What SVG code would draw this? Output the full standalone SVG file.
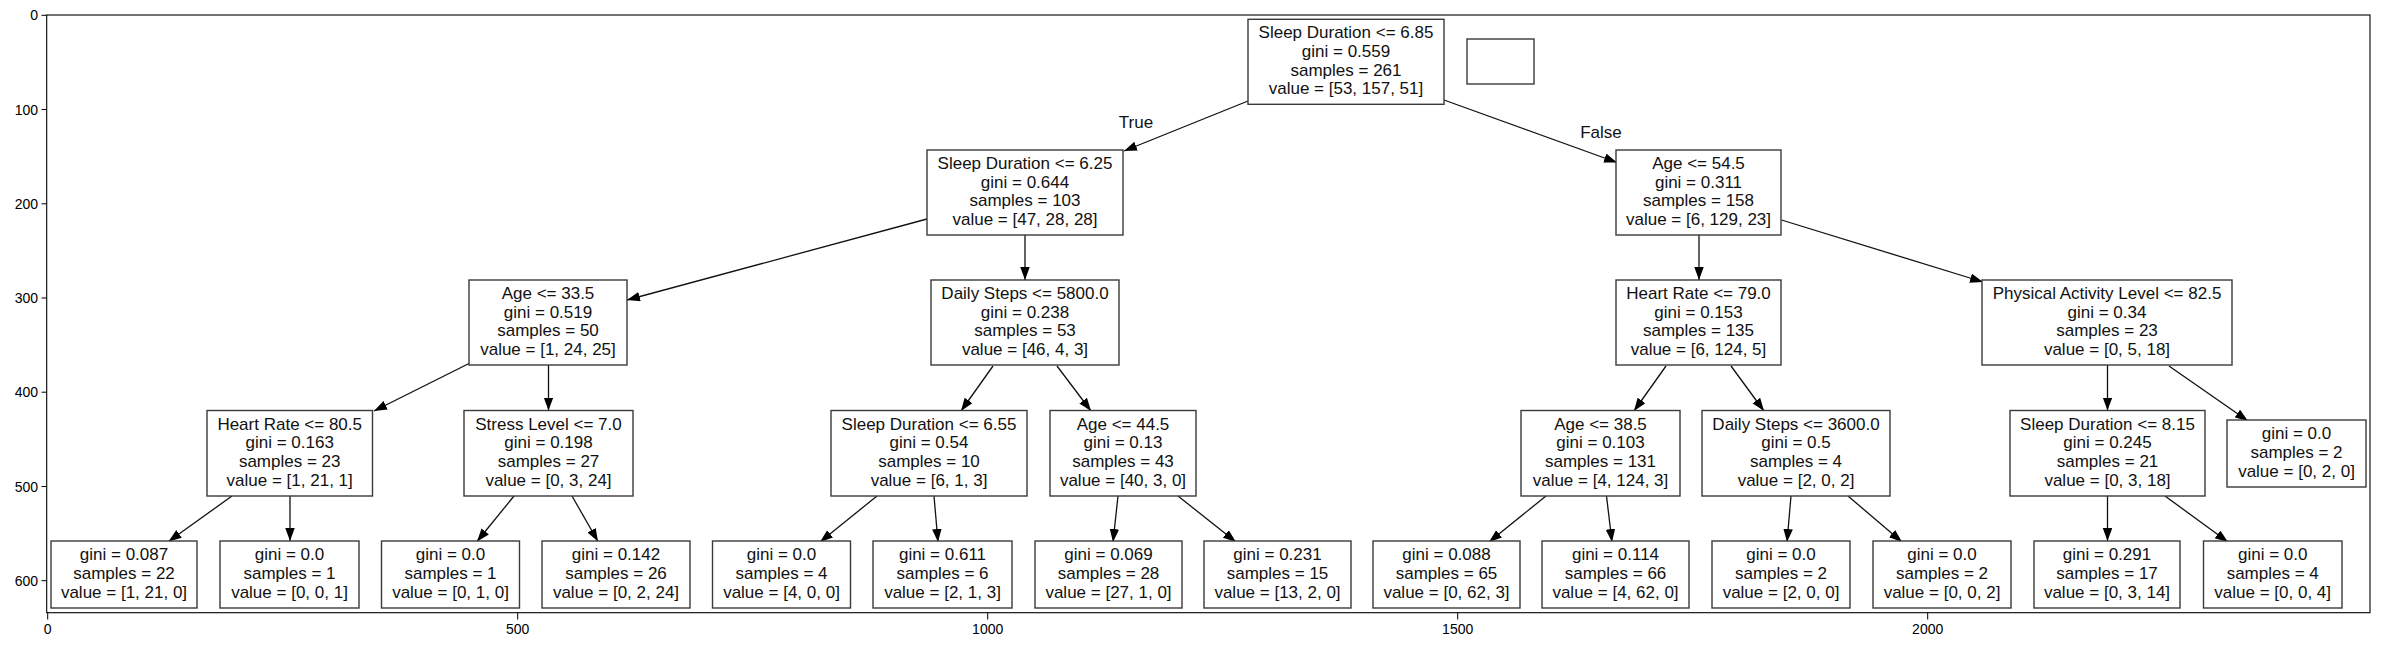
<svg xmlns="http://www.w3.org/2000/svg" width="2381" height="647" viewBox="0 0 2381 647">
<style>
.bg{fill:#fff}
.box{fill:#fff;stroke:#3a3a3a;stroke-width:1.4}
.t{font-family:"Liberation Sans",Arial,sans-serif;font-size:17px;text-anchor:middle;fill:#111}
.e{stroke:#111;stroke-width:1.3;fill:none;marker-end:url(#ah)}
.tick{stroke:#000;stroke-width:1}
.tl{font-family:"Liberation Sans",Arial,sans-serif;font-size:14px;fill:#000}
.frame{fill:none;stroke:#000;stroke-width:1.1}
</style>
<defs>
<marker id="ah" markerUnits="userSpaceOnUse" markerWidth="14" markerHeight="10" refX="13" refY="4.75" orient="auto">
<path d="M0,0 L13,4.75 L0,9.5 z" fill="#000"/>
</marker>
</defs>
<rect class="bg" x="0" y="0" width="2381" height="647"/>

<g id="connectors">
<line class="e" x1="1248" y1="101" x2="1124" y2="151"/>
<line class="e" x1="1444" y1="100" x2="1617" y2="162.5"/>
<line class="e" x1="927" y1="219" x2="627" y2="300"/>
<line class="e" x1="1025" y1="235" x2="1025" y2="280"/>
<line class="e" x1="1699" y1="235" x2="1699" y2="280"/>
<line class="e" x1="1781.5" y1="220" x2="1983" y2="282"/>
<line class="e" x1="469" y1="363.5" x2="374" y2="411"/>
<line class="e" x1="548.5" y1="365" x2="548.5" y2="410.5"/>
<line class="e" x1="993" y1="366" x2="961" y2="411"/>
<line class="e" x1="1057" y1="366" x2="1091" y2="411"/>
<line class="e" x1="1666" y1="366" x2="1634" y2="411"/>
<line class="e" x1="1731" y1="366" x2="1764" y2="411"/>
<line class="e" x1="2107.5" y1="365" x2="2107.5" y2="410.5"/>
<line class="e" x1="2169" y1="366" x2="2248" y2="421"/>
<line class="e" x1="232" y1="496" x2="168.5" y2="541.5"/>
<line class="e" x1="290" y1="496" x2="290" y2="541"/>
<line class="e" x1="514" y1="496" x2="477" y2="541.5"/>
<line class="e" x1="572" y1="496" x2="598" y2="541.5"/>
<line class="e" x1="877" y1="496" x2="820" y2="542"/>
<line class="e" x1="934" y1="496" x2="938" y2="542"/>
<line class="e" x1="1118" y1="496" x2="1113" y2="542"/>
<line class="e" x1="1178" y1="496" x2="1236" y2="542"/>
<line class="e" x1="1546" y1="496" x2="1489" y2="542"/>
<line class="e" x1="1606.5" y1="496" x2="1612" y2="542"/>
<line class="e" x1="1791" y1="496" x2="1787" y2="542"/>
<line class="e" x1="1848" y1="496" x2="1902" y2="542"/>
<line class="e" x1="2107.5" y1="496" x2="2107.5" y2="541"/>
<line class="e" x1="2165" y1="496" x2="2228" y2="542"/>
<text class="t" x="1136" y="128">True</text>
<text class="t" x="1601" y="138">False</text>
</g>

<g id="n0"><rect class="box" x="1248" y="19.3" width="196" height="85"/>
<text class="t"><tspan x="1346" y="38.3">Sleep Duration &lt;= 6.85</tspan><tspan x="1346" y="57">gini = 0.559</tspan><tspan x="1346" y="75.7">samples = 261</tspan><tspan x="1346" y="94.4">value = [53, 157, 51]</tspan></text></g>

<g id="empty-box"><rect class="box" x="1467" y="39" width="67" height="45"/></g>

<g id="n1"><rect class="box" x="927" y="150" width="196" height="85"/>
<text class="t"><tspan x="1025" y="169">Sleep Duration &lt;= 6.25</tspan><tspan x="1025" y="187.7">gini = 0.644</tspan><tspan x="1025" y="206.4">samples = 103</tspan><tspan x="1025" y="225.1">value = [47, 28, 28]</tspan></text></g>

<g id="n2"><rect class="box" x="1616" y="150" width="165" height="85"/>
<text class="t"><tspan x="1698.5" y="169">Age &lt;= 54.5</tspan><tspan x="1698.5" y="187.7">gini = 0.311</tspan><tspan x="1698.5" y="206.4">samples = 158</tspan><tspan x="1698.5" y="225.1">value = [6, 129, 23]</tspan></text></g>

<g id="n3"><rect class="box" x="469" y="280" width="158" height="85"/>
<text class="t"><tspan x="548" y="299">Age &lt;= 33.5</tspan><tspan x="548" y="317.7">gini = 0.519</tspan><tspan x="548" y="336.4">samples = 50</tspan><tspan x="548" y="355.1">value = [1, 24, 25]</tspan></text></g>

<g id="n4"><rect class="box" x="931" y="280" width="188" height="85"/>
<text class="t"><tspan x="1025" y="299">Daily Steps &lt;= 5800.0</tspan><tspan x="1025" y="317.7">gini = 0.238</tspan><tspan x="1025" y="336.4">samples = 53</tspan><tspan x="1025" y="355.1">value = [46, 4, 3]</tspan></text></g>

<g id="n5"><rect class="box" x="1616" y="280" width="165" height="85"/>
<text class="t"><tspan x="1698.5" y="299">Heart Rate &lt;= 79.0</tspan><tspan x="1698.5" y="317.7">gini = 0.153</tspan><tspan x="1698.5" y="336.4">samples = 135</tspan><tspan x="1698.5" y="355.1">value = [6, 124, 5]</tspan></text></g>

<g id="n6"><rect class="box" x="1982" y="280" width="250" height="85"/>
<text class="t"><tspan x="2107" y="299">Physical Activity Level &lt;= 82.5</tspan><tspan x="2107" y="317.7">gini = 0.34</tspan><tspan x="2107" y="336.4">samples = 23</tspan><tspan x="2107" y="355.1">value = [0, 5, 18]</tspan></text></g>

<g id="n7"><rect class="box" x="207" y="410.5" width="165.5" height="85.5"/>
<text class="t"><tspan x="289.7" y="429.7">Heart Rate &lt;= 80.5</tspan><tspan x="289.7" y="448.4">gini = 0.163</tspan><tspan x="289.7" y="467.1">samples = 23</tspan><tspan x="289.7" y="485.8">value = [1, 21, 1]</tspan></text></g>

<g id="n8"><rect class="box" x="464" y="410.5" width="169" height="85.5"/>
<text class="t"><tspan x="548.5" y="429.7">Stress Level &lt;= 7.0</tspan><tspan x="548.5" y="448.4">gini = 0.198</tspan><tspan x="548.5" y="467.1">samples = 27</tspan><tspan x="548.5" y="485.8">value = [0, 3, 24]</tspan></text></g>

<g id="n9"><rect class="box" x="831" y="410.5" width="196" height="85.5"/>
<text class="t"><tspan x="929" y="429.7">Sleep Duration &lt;= 6.55</tspan><tspan x="929" y="448.4">gini = 0.54</tspan><tspan x="929" y="467.1">samples = 10</tspan><tspan x="929" y="485.8">value = [6, 1, 3]</tspan></text></g>

<g id="n10"><rect class="box" x="1050" y="410.5" width="146" height="85.5"/>
<text class="t"><tspan x="1123" y="429.7">Age &lt;= 44.5</tspan><tspan x="1123" y="448.4">gini = 0.13</tspan><tspan x="1123" y="467.1">samples = 43</tspan><tspan x="1123" y="485.8">value = [40, 3, 0]</tspan></text></g>

<g id="n11"><rect class="box" x="1521" y="410.5" width="159" height="85.5"/>
<text class="t"><tspan x="1600.5" y="429.7">Age &lt;= 38.5</tspan><tspan x="1600.5" y="448.4">gini = 0.103</tspan><tspan x="1600.5" y="467.1">samples = 131</tspan><tspan x="1600.5" y="485.8">value = [4, 124, 3]</tspan></text></g>

<g id="n12"><rect class="box" x="1702" y="410.5" width="188" height="85.5"/>
<text class="t"><tspan x="1796" y="429.7">Daily Steps &lt;= 3600.0</tspan><tspan x="1796" y="448.4">gini = 0.5</tspan><tspan x="1796" y="467.1">samples = 4</tspan><tspan x="1796" y="485.8">value = [2, 0, 2]</tspan></text></g>

<g id="n13"><rect class="box" x="2010" y="410.5" width="195" height="85.5"/>
<text class="t"><tspan x="2107.5" y="429.7">Sleep Duration &lt;= 8.15</tspan><tspan x="2107.5" y="448.4">gini = 0.245</tspan><tspan x="2107.5" y="467.1">samples = 21</tspan><tspan x="2107.5" y="485.8">value = [0, 3, 18]</tspan></text></g>

<g id="n14"><rect class="box" x="2227" y="420" width="139" height="67"/>
<text class="t"><tspan x="2296.5" y="439.3">gini = 0.0</tspan><tspan x="2296.5" y="458">samples = 2</tspan><tspan x="2296.5" y="476.7">value = [0, 2, 0]</tspan></text></g>

<g id="l1"><rect class="box" x="51" y="541" width="146" height="67"/>
<text class="t"><tspan x="124" y="560.3">gini = 0.087</tspan><tspan x="124" y="579">samples = 22</tspan><tspan x="124" y="597.7">value = [1, 21, 0]</tspan></text></g>

<g id="l2"><rect class="box" x="220" y="541" width="139" height="67"/>
<text class="t"><tspan x="289.5" y="560.3">gini = 0.0</tspan><tspan x="289.5" y="579">samples = 1</tspan><tspan x="289.5" y="597.7">value = [0, 0, 1]</tspan></text></g>

<g id="l3"><rect class="box" x="381.5" y="541" width="138" height="67"/>
<text class="t"><tspan x="450.5" y="560.3">gini = 0.0</tspan><tspan x="450.5" y="579">samples = 1</tspan><tspan x="450.5" y="597.7">value = [0, 1, 0]</tspan></text></g>

<g id="l4"><rect class="box" x="542" y="541" width="148" height="67"/>
<text class="t"><tspan x="616" y="560.3">gini = 0.142</tspan><tspan x="616" y="579">samples = 26</tspan><tspan x="616" y="597.7">value = [0, 2, 24]</tspan></text></g>

<g id="l5"><rect class="box" x="712.5" y="541" width="138" height="67"/>
<text class="t"><tspan x="781.5" y="560.3">gini = 0.0</tspan><tspan x="781.5" y="579">samples = 4</tspan><tspan x="781.5" y="597.7">value = [4, 0, 0]</tspan></text></g>

<g id="l6"><rect class="box" x="873" y="541" width="139" height="67"/>
<text class="t"><tspan x="942.5" y="560.3">gini = 0.611</tspan><tspan x="942.5" y="579">samples = 6</tspan><tspan x="942.5" y="597.7">value = [2, 1, 3]</tspan></text></g>

<g id="l7"><rect class="box" x="1035" y="541" width="147" height="67"/>
<text class="t"><tspan x="1108.5" y="560.3">gini = 0.069</tspan><tspan x="1108.5" y="579">samples = 28</tspan><tspan x="1108.5" y="597.7">value = [27, 1, 0]</tspan></text></g>

<g id="l8"><rect class="box" x="1204" y="541" width="147" height="67"/>
<text class="t"><tspan x="1277.5" y="560.3">gini = 0.231</tspan><tspan x="1277.5" y="579">samples = 15</tspan><tspan x="1277.5" y="597.7">value = [13, 2, 0]</tspan></text></g>

<g id="l9"><rect class="box" x="1373" y="541" width="147" height="67"/>
<text class="t"><tspan x="1446.5" y="560.3">gini = 0.088</tspan><tspan x="1446.5" y="579">samples = 65</tspan><tspan x="1446.5" y="597.7">value = [0, 62, 3]</tspan></text></g>

<g id="l10"><rect class="box" x="1542" y="541" width="147" height="67"/>
<text class="t"><tspan x="1615.5" y="560.3">gini = 0.114</tspan><tspan x="1615.5" y="579">samples = 66</tspan><tspan x="1615.5" y="597.7">value = [4, 62, 0]</tspan></text></g>

<g id="l11"><rect class="box" x="1712" y="541" width="138" height="67"/>
<text class="t"><tspan x="1781" y="560.3">gini = 0.0</tspan><tspan x="1781" y="579">samples = 2</tspan><tspan x="1781" y="597.7">value = [2, 0, 0]</tspan></text></g>

<g id="l12"><rect class="box" x="1873" y="541" width="138" height="67"/>
<text class="t"><tspan x="1942" y="560.3">gini = 0.0</tspan><tspan x="1942" y="579">samples = 2</tspan><tspan x="1942" y="597.7">value = [0, 0, 2]</tspan></text></g>

<g id="l13"><rect class="box" x="2034" y="541" width="146" height="67"/>
<text class="t"><tspan x="2107" y="560.3">gini = 0.291</tspan><tspan x="2107" y="579">samples = 17</tspan><tspan x="2107" y="597.7">value = [0, 3, 14]</tspan></text></g>

<g id="l14"><rect class="box" x="2203.5" y="541" width="138.5" height="67"/>
<text class="t"><tspan x="2272.7" y="560.3">gini = 0.0</tspan><tspan x="2272.7" y="579">samples = 4</tspan><tspan x="2272.7" y="597.7">value = [0, 0, 4]</tspan></text></g>

<g id="axes">
<rect class="frame" x="46.7" y="15" width="2323.3" height="597.7"/>
<g class="tick">
<line x1="41.5" y1="15.3" x2="46.7" y2="15.3"/>
<line x1="41.5" y1="109.5" x2="46.7" y2="109.5"/>
<line x1="41.5" y1="203.8" x2="46.7" y2="203.8"/>
<line x1="41.5" y1="298" x2="46.7" y2="298"/>
<line x1="41.5" y1="392.2" x2="46.7" y2="392.2"/>
<line x1="41.5" y1="486.5" x2="46.7" y2="486.5"/>
<line x1="41.5" y1="580.7" x2="46.7" y2="580.7"/>
<line x1="47.7" y1="612.7" x2="47.7" y2="619.5"/>
<line x1="517.7" y1="612.7" x2="517.7" y2="619.5"/>
<line x1="987.7" y1="612.7" x2="987.7" y2="619.5"/>
<line x1="1457.7" y1="612.7" x2="1457.7" y2="619.5"/>
<line x1="1927.7" y1="612.7" x2="1927.7" y2="619.5"/>
</g>
<g class="tl" text-anchor="end">
<text x="38" y="20.3">0</text>
<text x="38" y="114.5">100</text>
<text x="38" y="208.8">200</text>
<text x="38" y="303">300</text>
<text x="38" y="397.2">400</text>
<text x="38" y="491.5">500</text>
<text x="38" y="585.7">600</text>
</g>
<g class="tl" text-anchor="middle">
<text x="47.7" y="634">0</text>
<text x="517.7" y="634">500</text>
<text x="987.7" y="634">1000</text>
<text x="1457.7" y="634">1500</text>
<text x="1927.7" y="634">2000</text>
</g>
</g>
</svg>
